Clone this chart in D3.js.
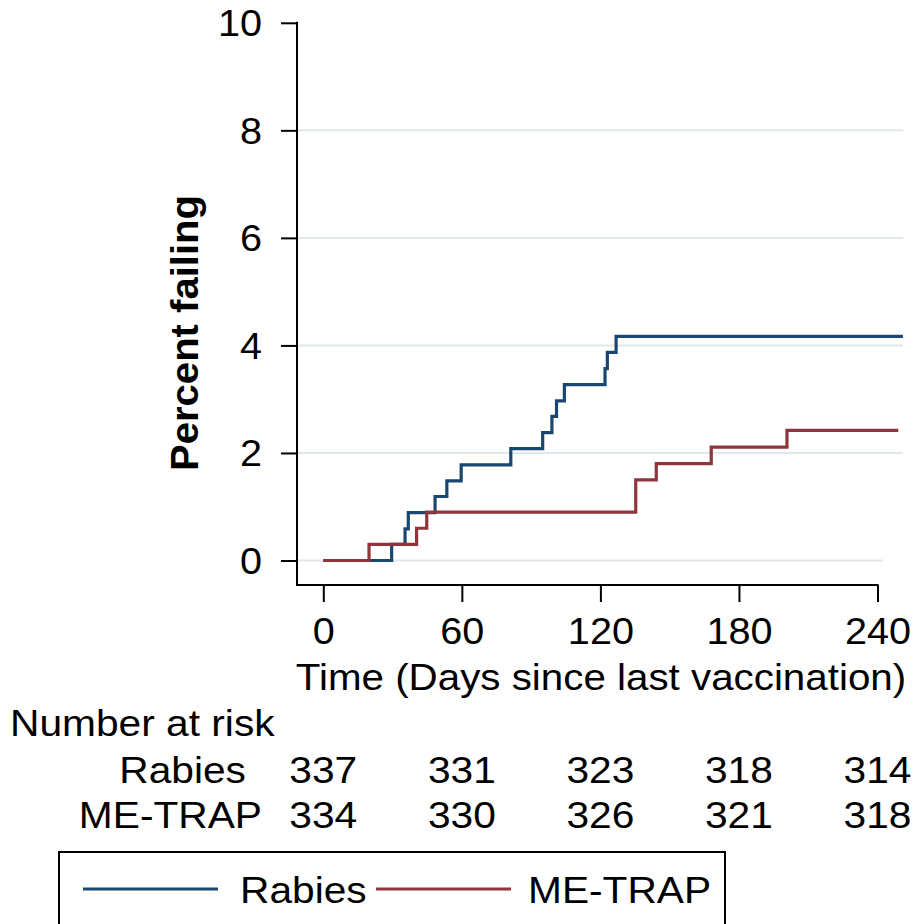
<!DOCTYPE html>
<html><head><meta charset="utf-8">
<script src="https://cdn.jsdelivr.net/npm/d3@7"></script>
<style>
html,body{margin:0;padding:0;background:#fff;}
svg text{font-family:"Liberation Sans",Arial,sans-serif;fill:#000;}
</style></head>
<body><svg id="c" width="915" height="924"></svg>
<script>
// ---- data ----
const rabiesDays   = [0, 29.6, 35.4, 36.8, 48.4, 53.5, 59.7, 81.2, 95, 99, 101, 104.4, 122, 123, 126.8, 251];
const rabiesPct    = [0, 0.30, 0.59, 0.89, 1.19, 1.48, 1.78, 2.08, 2.38, 2.68, 2.97, 3.27, 3.57, 3.87, 4.17, 4.17];
const metrapDays   = [0, 19.8, 40.4, 44.8, 135.3, 144.2, 168, 200.8, 249];
const metrapPct    = [0, 0.30, 0.60, 0.90, 1.50, 1.80, 2.11, 2.42, 2.42];
const xTicks       = [0, 60, 120, 180, 240];
const yTicks       = [0, 2, 4, 6, 8, 10];
const gridVals     = [0, 2, 4, 6, 8];
const groups       = ["Rabies", "ME-TRAP"];
const riskRabies   = [337, 331, 323, 318, 314];
const riskMetrap   = [334, 330, 326, 321, 318];
const colors       = ["#1a476f", "#90353b"];

// ---- layout ----
const svg = d3.select("#c");
const x = d3.scaleLinear().domain([0, 240]).range([323.3, 877.5]);
const y = d3.scaleLinear().domain([0, 10]).range([560.5, 22.8]);
const axisX = 297, axisY = 585;
const STRETCH = 1.1;

function stretch(sel, k) {
  sel.each(function(){ const l = this.getComputedTextLength(); this.setAttribute("textLength", l * (k||STRETCH)); this.setAttribute("lengthAdjust","spacingAndGlyphs"); });
  return sel;
}

// gridlines
svg.append("g").selectAll("line").data(gridVals).join("line")
  .attr("x1", axisX).attr("x2", d => d === 0 ? 883 : 903)
  .attr("y1", d => y(d)).attr("y2", d => y(d))
  .attr("stroke", "#e1e8ec").attr("stroke-width", 2);

// y axis
const yAxis = d3.axisLeft(y).tickValues(yTicks).tickSize(16).tickPadding(19).tickFormat(d3.format("d"));
const gy = svg.append("g").attr("transform", `translate(${axisX},0)`).call(yAxis);
gy.select(".domain").remove();
gy.selectAll(".tick line").attr("stroke", "#000").attr("stroke-width", 2);
gy.selectAll(".tick text").attr("font-size", 36).attr("dy", "0.36em").style("font-family","Liberation Sans, Arial, sans-serif");
stretch(gy.selectAll(".tick text"));
svg.append("line").attr("x1", axisX).attr("x2", axisX).attr("y1", y(10) - 1).attr("y2", axisY + 1)
  .attr("stroke", "#000").attr("stroke-width", 2);

// x axis
const xAxis = d3.axisBottom(x).tickValues(xTicks).tickSize(17).tickPadding(16).tickFormat(d3.format("d"));
const gx = svg.append("g").attr("transform", `translate(0,${axisY})`).call(xAxis);
gx.select(".domain").remove();
gx.selectAll(".tick line").attr("stroke", "#000").attr("stroke-width", 2);
gx.selectAll(".tick text").attr("font-size", 36).style("font-family","Liberation Sans, Arial, sans-serif");
stretch(gx.selectAll(".tick text"));
svg.append("line").attr("x1", axisX - 1).attr("x2", x(240) + 1).attr("y1", axisY).attr("y2", axisY)
  .attr("stroke", "#000").attr("stroke-width", 2);

// curves
const line = d3.line().x(d => x(d[0])).y(d => y(d[1])).curve(d3.curveStepAfter);
const rab = rabiesDays.map((d, i) => [d, rabiesPct[i]]);
const met = metrapDays.map((d, i) => [d, metrapPct[i]]);
svg.append("path").datum(rab).attr("d", line).attr("fill", "none").attr("stroke", colors[0]).attr("stroke-width", 3.2);
svg.append("path").datum(met).attr("d", line).attr("fill", "none").attr("stroke", colors[1]).attr("stroke-width", 3.2);

// y title
const yt = svg.append("text").attr("transform", "translate(198,333) rotate(-90)")
  .attr("text-anchor", "middle").attr("font-size", 38).attr("font-weight", "bold").text("Percent failing");
yt.attr("textLength", 276).attr("lengthAdjust", "spacingAndGlyphs");

// x title
stretch(svg.append("text").attr("x", 601).attr("y", 690).attr("text-anchor", "middle").attr("font-size", 37)
  .text("Time (Days since last vaccination)"), 1.09);

// number at risk
stretch(svg.append("text").attr("x", 10).attr("y", 736).attr("font-size", 37).text("Number at risk"));
const rows = [{name: groups[0], vals: riskRabies, yb: 783, xr: 246}, {name: groups[1], vals: riskMetrap, yb: 828, xr: 262}];
rows.forEach(r => {
  stretch(svg.append("text").attr("x", r.xr).attr("y", r.yb).attr("text-anchor", "end").attr("font-size", 37).text(r.name));
  stretch(svg.append("g").selectAll("text").data(r.vals).join("text")
    .attr("x", (d, i) => x(xTicks[i])).attr("y", r.yb).attr("text-anchor", "middle").attr("font-size", 37).text(d => d));
});

// legend
svg.append("rect").attr("x", 59).attr("y", 852).attr("width", 666).attr("height", 100)
  .attr("fill", "#fff").attr("stroke", "#000").attr("stroke-width", 2);
const leg = [{lx: 83, tx: 240}, {lx: 376, tx: 528}];
groups.forEach((g, i) => {
  svg.append("line").attr("x1", leg[i].lx).attr("x2", leg[i].lx + 135).attr("y1", 889).attr("y2", 889)
    .attr("stroke", colors[i]).attr("stroke-width", 3.2);
  stretch(svg.append("text").attr("x", leg[i].tx).attr("y", 903).attr("font-size", 37).text(g));
});
</script></body></html>
